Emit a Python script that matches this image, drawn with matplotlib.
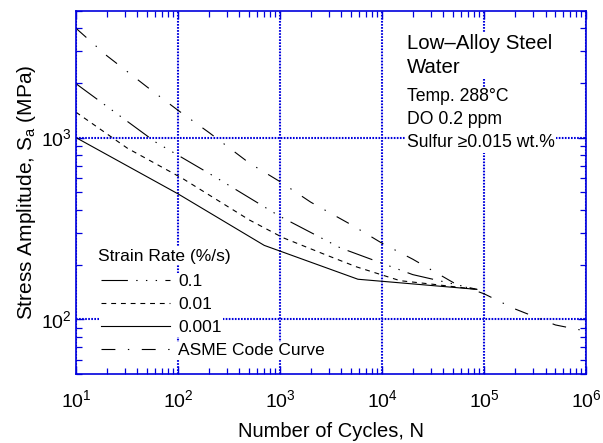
import matplotlib
matplotlib.use('Agg')
import matplotlib.pyplot as plt
from matplotlib.ticker import LogLocator, NullFormatter

plt.rcParams['font.family'] = ['Liberation Sans', 'DejaVu Sans']
plt.rcParams['mathtext.fontset'] = 'custom'
plt.rcParams['mathtext.rm'] = 'Liberation Sans'
plt.rcParams['mathtext.it'] = 'Liberation Sans:italic'
plt.rcParams['lines.scale_dashes'] = False

# ── data ──────────────────────────────────────────────────────────────────────
N_asme = [10, 20, 50, 100, 200, 500, 1000, 2000, 5000, 1e4, 2e4, 5e4, 1e5, 2e5, 5e5, 1e6]
S_asme = [3999, 2827, 1896, 1413, 1069, 724, 572, 441, 331, 262, 214, 159, 138, 114, 93, 86]

N_r01 = [10, 60, 230, 1000, 3900, 20000, 85000]
S_r01 = [1980, 946, 608, 368, 247, 176, 146]

N_r001 = [10, 32, 110, 500, 1070, 2760, 5650, 15000, 30700, 85000]
S_r001 = [1380, 873, 597, 352, 281, 227, 194, 163, 156, 146]

N_r0001 = [10, 100, 700, 5800, 85000]
S_r0001 = [1000, 490, 255, 166, 146]

labels = ['0.1', '0.01', '0.001', 'ASME Code Curve']
legend_title = 'Strain Rate (%/s)'
notes_big = ['Low\u2013Alloy Steel', 'Water']
notes_small = ['Temp. 288\u00b0C', 'DO 0.2 ppm', 'Sulfur \u22650.015 wt.%']

AXCOL = '#0000dd'
WHITE_BOX = dict(facecolor='white', edgecolor='none', pad=1.0)

fig = plt.figure(figsize=(6.03, 4.43), dpi=100)
ax = fig.add_axes([0.126, 0.156, 0.846, 0.82])

lw = 0.8
h1, = ax.plot(N_r01, S_r01, color='black', lw=lw, linestyle=(0, (19, 6, 1, 6, 1, 6, 1, 6)), label=labels[0])
h2, = ax.plot(N_r001, S_r001, color='black', lw=lw, linestyle=(0, (3.5, 3.5)), label=labels[1])
h3, = ax.plot(N_r0001, S_r0001, color='black', lw=lw, linestyle='-', label=labels[2])
h4, = ax.plot(N_asme, S_asme, color='black', lw=lw, linestyle=(0, (10, 9, 1, 9)), label=labels[3])

ax.set_xscale('log')
ax.set_yscale('log')
ax.set_xlim(10, 1e6)
ax.set_ylim(50, 5000)

ax.xaxis.set_major_locator(LogLocator(base=10, numticks=10))
ax.yaxis.set_major_locator(LogLocator(base=10, numticks=10))
ax.xaxis.set_minor_locator(LogLocator(base=10, subs=range(2, 10), numticks=20))
ax.yaxis.set_minor_locator(LogLocator(base=10, subs=range(2, 10), numticks=20))
ax.yaxis.set_minor_formatter(NullFormatter())

ax.grid(True, which='major', color=AXCOL, linestyle=(0, (1.2, 1.0)), lw=1.5)
for s in ax.spines.values():
    s.set_color(AXCOL)
    s.set_linewidth(1.2)
ax.tick_params(which='both', direction='in', top=True, right=True, color=AXCOL,
               labelsize=14, labelcolor='black')
ax.tick_params(which='major', length=6, width=1.0)
ax.tick_params(which='minor', length=4.5, width=0.9)
ax.tick_params(axis='x', which='major', pad=11)
ax.tick_params(axis='y', which='major', pad=3)

ax.set_xlabel('Number of Cycles, N', fontsize=14.5, labelpad=8)
ax.set_ylabel('Stress Amplitude, S$_\\mathrm{a}$ (MPa)', fontsize=15, labelpad=2)

ax.text(0.648, 0.935, '\n'.join(notes_big), transform=ax.transAxes, fontsize=14.7,
        va='top', ha='left', linespacing=1.3, bbox=WHITE_BOX, zorder=5)
ax.text(0.648, 0.786, '\n'.join(notes_small), transform=ax.transAxes, fontsize=12.7,
        va='top', ha='left', linespacing=1.46, bbox=WHITE_BOX, zorder=5)

# legend rows sit on opaque white patches that hide the grid behind them
leg_kw = dict(loc='lower left', frameon=True, fontsize=12.5, handlelength=4.0,
              handletextpad=0.45, labelspacing=0.45, borderpad=0.1, fancybox=False)


def whiten(leg):
    fr = leg.get_frame()
    fr.set_facecolor('white')
    fr.set_edgecolor('none')
    fr.set_alpha(1.0)
    leg.set_zorder(5)


leg_top = ax.legend(handles=[h1, h2, h3], bbox_to_anchor=(0.028, 0.0774), **leg_kw)
whiten(leg_top)
ax.add_artist(leg_top)
leg_bot = ax.legend(handles=[h4], bbox_to_anchor=(0.028, 0.014), **leg_kw)
whiten(leg_bot)

ax.text(0.043, 0.345, legend_title, transform=ax.transAxes, fontsize=12.5,
        va='top', ha='left', bbox=WHITE_BOX, zorder=5)

fig.savefig('out.png', dpi=100)
